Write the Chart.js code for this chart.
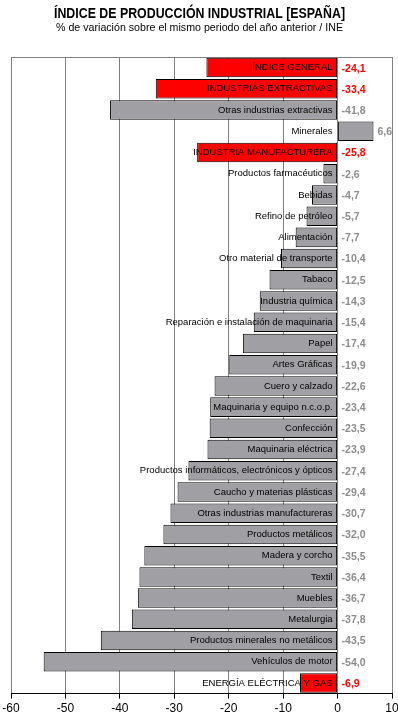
<!DOCTYPE html>
<html>
<head>
<meta charset="utf-8">
<script src="https://cdn.jsdelivr.net/npm/chart.js@4/dist/chart.umd.min.js"></script>
<style>
html,body{margin:0;padding:0;background:#fff;}
#wrap{width:398px;height:719px;position:relative;}
</style>
</head>
<body>
<div id="wrap"><canvas id="c" width="398" height="719"></canvas></div>
<script>
const titleText = 'ÍNDICE DE PRODUCCIÓN INDUSTRIAL [ESPAÑA]';
const subtitleText = '% de variación sobre el mismo periodo del año anterior / INE';

const categories = [
  'ÍNDICE GENERAL',
  'INDUSTRIAS EXTRACTIVAS',
  'Otras industrias extractivas',
  'Minerales',
  'INDUSTRIA MANUFACTURERA',
  'Productos farmacéuticos',
  'Bebidas',
  'Refino de petróleo',
  'Alimentación',
  'Otro material de transporte',
  'Tabaco',
  'Industria química',
  'Reparación e instalación de maquinaria',
  'Papel',
  'Artes Gráficas',
  'Cuero y calzado',
  'Maquinaria y equipo n.c.o.p.',
  'Confección',
  'Maquinaria eléctrica',
  'Productos informáticos, electrónicos y ópticos',
  'Caucho y materias plásticas',
  'Otras industrias manufactureras',
  'Productos metálicos',
  'Madera y corcho',
  'Textil',
  'Muebles',
  'Metalurgia',
  'Productos minerales no metálicos',
  'Vehículos de motor',
  'ENERGÍA ELÉCTRICA Y GAS'
];

const values = [
  -24.1, -33.4, -41.8, 6.6, -25.8, -2.6, -4.7, -5.7, -7.7, -10.4,
  -12.5, -14.3, -15.4, -17.4, -19.9, -22.6, -23.4, -23.5, -23.9, -27.4,
  -29.4, -30.7, -32.0, -35.5, -36.4, -36.7, -37.8, -43.5, -54.0, -6.9
];

const highlightCategories = [
  'ÍNDICE GENERAL',
  'INDUSTRIAS EXTRACTIVAS',
  'INDUSTRIA MANUFACTURERA',
  'ENERGÍA ELÉCTRICA Y GAS'
];

const xTicks = [-60, -50, -40, -30, -20, -10, 0, 10];

const RED = '#ff0000';
const GRAY = '#a0a0a4';
const isHi = c => highlightCategories.includes(c);

const FONT = '"Liberation Sans", Arial, sans-serif';

const framePlugin = {
  id: 'frame',
  beforeDatasetsDraw(chart) {
    const {ctx, chartArea} = chart;
    ctx.save();
    ctx.strokeStyle = '#808080';
    ctx.lineWidth = 1;
    ctx.beginPath();
    ctx.moveTo(chartArea.left, Math.round(chartArea.top) + 0.5);
    ctx.lineTo(chartArea.right, Math.round(chartArea.top) + 0.5);
    ctx.stroke();
    ctx.restore();
  }
};

const headingPlugin = {
  id: 'heading',
  afterDraw(chart) {
    const {ctx} = chart;
    const cx = chart.width / 2 + 0.5;
    ctx.save();
    ctx.fillStyle = '#000';
    ctx.textAlign = 'center';
    ctx.textBaseline = 'alphabetic';
    ctx.font = 'bold 15px ' + FONT;
    const w = ctx.measureText(titleText).width;
    const sx = Math.min(1, 291 / w);
    ctx.save();
    ctx.translate(cx, 18);
    ctx.scale(sx, 1);
    ctx.fillText(titleText, 0, 0);
    ctx.restore();
    ctx.font = '10.8px ' + FONT;
    const w2 = ctx.measureText(subtitleText).width;
    const sx2 = Math.min(1, 287 / w2);
    ctx.translate(cx, 31);
    ctx.scale(sx2, 1);
    ctx.fillText(subtitleText, 0, 0);
    ctx.restore();
  }
};

const labelPlugin = {
  id: 'barLabels',
  afterDatasetsDraw(chart) {
    const {ctx} = chart;
    const xs = chart.scales.x;
    const zero = xs.getPixelForValue(0);
    const meta = chart.getDatasetMeta(0);
    ctx.save();
    ctx.textBaseline = 'middle';
    meta.data.forEach((bar, i) => {
      const cat = categories[i];
      const v = values[i];
      ctx.font = '9.5px ' + FONT;
      ctx.fillStyle = '#000';
      ctx.textAlign = 'right';
      ctx.fillText(cat, zero - 5, bar.y);
      ctx.font = 'bold 10.5px ' + FONT;
      ctx.fillStyle = isHi(cat) ? RED : '#8c8c8c';
      ctx.textAlign = 'left';
      const tx = v >= 0 ? bar.x + 4 : zero + 4;
      ctx.fillText(v.toFixed(1).replace('.', ','), tx, bar.y + 1);
    });
    ctx.restore();
  }
};

new Chart(document.getElementById('c'), {
  type: 'bar',
  data: {
    labels: categories,
    datasets: [{
      data: values,
      backgroundColor: categories.map(c => isHi(c) ? RED : GRAY),
      borderColor: '#000',
      borderWidth: 1,
      borderSkipped: false,
      categoryPercentage: 1,
      barPercentage: 0.92
    }]
  },
  options: {
    indexAxis: 'y',
    responsive: false,
    animation: false,
    devicePixelRatio: 1,
    layout: { padding: { left: 11, right: 6, top: 57, bottom: 0 } },
    plugins: {
      legend: { display: false },
      tooltip: { enabled: false },
      title: { display: false },
      subtitle: { display: false }
    },
    scales: {
      x: {
        min: -60,
        max: 10,
        afterBuildTicks(axis) { axis.ticks = xTicks.map(v => ({ value: v })); },
        afterFit(axis) { axis.paddingLeft = 0; axis.paddingRight = 0; },
        grid: { color: '#808080', lineWidth: 1, tickLength: 5, tickColor: '#000', drawOnChartArea: true },
        border: { display: true, color: '#000', width: 1 },
        ticks: { color: '#000', font: { family: FONT, size: 12 }, padding: 3, maxRotation: 0 }
      },
      y: {
        display: false,
        grid: { display: false }
      }
    }
  },
  plugins: [framePlugin, labelPlugin, headingPlugin]
});
</script>
</body>
</html>
